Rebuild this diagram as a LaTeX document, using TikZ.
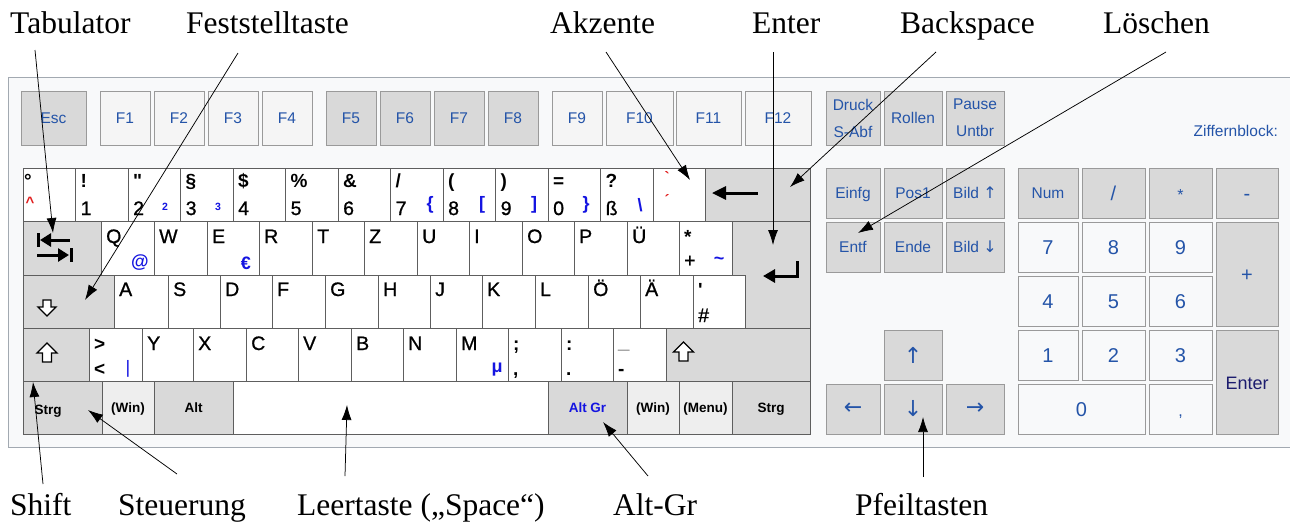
\documentclass[tikz,border=0pt]{standalone}
\usepackage{fontspec}
\setmainfont{Liberation Serif}
\newfontfamily\kf{Liberation Sans}
\newfontfamily\kfm{Liberation Sans}[FakeBold=0.9]
\newfontfamily\df{DejaVu Sans}
\usetikzlibrary{arrows.meta}
\definecolor{panelbg}{HTML}{F8F9FA}
\definecolor{panelbd}{HTML}{A2A9B1}
\definecolor{kgray}{HTML}{D9D9D9}
\definecolor{klight}{HTML}{F5F5F5}
\definecolor{kwin}{HTML}{EEEEEE}
\definecolor{kbd}{HTML}{5E5E5E}
\definecolor{fbd}{HTML}{9A9A9A}
\definecolor{lblue}{RGB}{36,84,168}
\definecolor{vblue}{RGB}{28,28,110}
\definecolor{agblue}{RGB}{20,20,225}
\definecolor{accred}{RGB}{225,30,30}
\newcommand\fsz[1]{\fontsize{#1}{#1}\selectfont}
\newcommand\KEY[6]{\node[#1,minimum width={#4-#2},minimum height={#5-#3},anchor=north west] (#6) at (#2,#3) {};}
\newcommand\NK[5]{\KEY{wk}{#1}{168}{#2}{221}{#3}
  \node[chb] (#3-a) at (#1+5,187) {#4};
  \node[ch] (#3-b) at (#1+5,215) {#5};}
\tikzset{
 mk/.style={draw=kbd,line width=0.9pt,inner sep=0pt,outer sep=0pt},
 wk/.style={mk,fill=white},
 gk/.style={mk,fill=kgray},
 ik/.style={mk,fill=kwin},
 fk/.style={draw=fbd,line width=0.9pt,inner sep=0pt,outer sep=0pt,fill=klight},
 fg/.style={draw=fbd,line width=0.9pt,inner sep=0pt,outer sep=0pt,fill=kgray},
 pk/.style={draw=fbd,line width=0.9pt,inner sep=0pt,outer sep=0pt,fill=panelbg},
 ch/.style={font=\kfm\fsz{19.5},inner sep=0pt,anchor=base west},
 chb/.style={font=\kf\bfseries\fsz{19},inner sep=0pt,anchor=base west},
 ag/.style={font=\kf\bfseries\fsz{18},text=agblue,inner sep=0pt,anchor=center},
 agr/.style={font=\kf\fsz{18},text=agblue,inner sep=0pt,anchor=center},
 agsm/.style={font=\kf\bfseries\fsz{10.5},text=agblue,inner sep=0pt,anchor=center},
 rd/.style={font=\kf\bfseries\fsz{15},text=accred,inner sep=0pt,anchor=center},
 ft/.style={font=\kf\fsz{15.5},text=lblue,inner sep=0pt,anchor=base,yshift=-5.7pt},
 ft2/.style={font=\kf\fontsize{15.5}{27}\selectfont,text=lblue,inner sep=0pt,align=center},
 npt/.style={font=\kf\fsz{20},text=lblue,inner sep=0pt,anchor=base,yshift=-7pt},
 art/.style={font=\df\fsz{22},text=lblue,inner sep=0pt,anchor=center},
 mt/.style={font=\kf\bfseries\fsz{13.5},inner sep=0pt,anchor=base},
 lab/.style={font=\fsz{31.5},inner sep=0pt,anchor=base west},
 con/.style={line width=0.75pt,-{Latex[length=15pt,width=10pt]}},
 icon/.style={line width=3pt},
 ol/.style={line width=1.3pt,line join=miter,fill=white},
}
\begin{document}
\begin{tikzpicture}[x=1pt,y=-1pt]
\useasboundingbox (0,0) rectangle (1290,523);
\fill[white] (0,0) rectangle (1290,523);
\draw[panelbd,fill=panelbg,line width=1pt] (8,77) rectangle (1310,447);

% ---------- function row
\KEY{fg}{21}{91}{86}{145}{esc} \node[ft] (esc-t) at (esc) {Esc};
\foreach \a/\b/\t [count=\i] in {100/150/F1,154/204/F2,208/258/F3,262/312/F4}
  {\KEY{fk}{\a}{91}{\b}{145}{fa\i} \node[ft] (fa\i-t) at (fa\i) {\t};}
\foreach \a/\b/\t [count=\i] in {326/376/F5,380/430/F6,434/484/F7,488/538/F8}
  {\KEY{fg}{\a}{91}{\b}{145}{fb\i} \node[ft] (fb\i-t) at (fb\i) {\t};}
\foreach \a/\b/\t [count=\i] in {552/602/F9,606/673/F10,676/741/F11,745/811/F12}
  {\KEY{fk}{\a}{91}{\b}{145}{fc\i} \node[ft] (fc\i-t) at (fc\i) {\t};}
\KEY{fg}{826}{91}{880}{145}{prt} \node[ft2] (prt-t) at (prt) {Druck\\S-Abf};
\KEY{fg}{884}{91}{942}{145}{scr} \node[ft] (scr-t) at (scr) {Rollen};
\KEY{fg}{946}{91}{1004}{145}{pau} \node[ft2] (pau-t) at (pau) {Pause\\Untbr};
\node[font=\kf\fsz{15.5},text=lblue,inner sep=0pt,anchor=base east] (zb) at (1278,136) {Ziffernblock:};

% ---------- number row
\KEY{wk}{23}{168}{75.5}{221}{kc}
\node[chb] (kc-a) at (24,187) {°};
\node[rd] (kc-b) at (30,202) {\^{}};
\NK{75.5}{128}{n1}{!}{1}
\NK{128}{180.5}{n2}{"}{2}
\NK{180.5}{233}{n3}{§}{3}
\NK{233}{285.5}{n4}{\$}{4}
\NK{285.5}{338}{n5}{\%}{5}
\NK{338}{390.5}{n6}{\&}{6}
\NK{390.5}{443}{n7}{/}{7}
\NK{443}{495.5}{n8}{(}{8}
\NK{495.5}{548}{n9}{)}{9}
\NK{548}{600.5}{n0}{=}{0}
\NK{600.5}{653}{nss}{?}{ß}
\node[agsm] (n2-c) at (165,207) {2};
\node[agsm] (n3-c) at (218,207) {3};
\node[ag] (n7-c) at (430,205) {\{};
\node[ag] (n8-c) at (482,205) {[};
\node[ag] (n9-c) at (534,205) {]};
\node[ag] (n0-c) at (586,205) {\}};
\node[ag] (nss-c) at (640,205) {\textbackslash};
\KEY{wk}{653}{168}{705.5}{221}{nacc}
\node[rd] (nacc-a) at (667,177) {`};
\node[rd] (nacc-b) at (667,200) {´};
\KEY{gk}{705.5}{168}{810}{221}{bs}

% ---------- Q row
\KEY{gk}{23}{221}{101}{275}{tab}
\foreach \a/\b/\c [count=\i] in {101/154/Q,154/207/W,207/259/E,259/312/R,312/364/T,364/417/Z,417/469/U,469/522/I,522/574/O,574/627/P,627/679/Ü}
  {\KEY{wk}{\a}{221}{\b}{275}{kq\i} \node[ch] (kq\i-t) at (\a+5,243) {\c};}
\node[ag] (kq1-c) at (140,263) {@};
\node[ag] (kq3-c) at (246,263) {€};
\KEY{wk}{679}{221}{732}{275}{kplus}
\node[chb] (kplus-a) at (684,243) {*};
\node[ch] (kplus-b) at (684,267) {+};
\node[ag] (kplus-c) at (719,261) {\textasciitilde};
\draw[mk,fill=kgray] (732,221) -- (810,221) -- (810,328) -- (745,328) -- (745,275) -- (732,275) -- cycle;

% ---------- A row
\KEY{gk}{23}{275}{114}{328}{caps}
\foreach \a/\b/\c [count=\i] in {114/168/A,168/220/S,220/272/D,272/325/F,325/378/G,378/430/H,430/482/J,482/535/K,535/588/L,588/640/Ö,640/693/Ä}
  {\KEY{wk}{\a}{275}{\b}{328}{ka\i} \node[ch] (ka\i-t) at (\a+5,296) {\c};}
\KEY{wk}{693}{275}{745}{328}{khash}
\node[chb] (khash-a) at (698,296) {'};
\node[ch] (khash-b) at (698,322) {\#};

% ---------- shift row
\KEY{gk}{23}{328}{89}{381}{lsh}
\KEY{wk}{89}{328}{142}{381}{klt}
\node[chb] (klt-a) at (94,350) {>};
\node[chb] (klt-b) at (94,375) {<};
\node[agr] (klt-c) at (128,369) {|};
\foreach \a/\b/\c [count=\i] in {142/193/Y,193/246/X,246/298/C,298/351/V,351/403/B,403/456/N,456/508/M}
  {\KEY{wk}{\a}{328}{\b}{381}{ky\i} \node[ch] (ky\i-t) at (\a+5,350) {\c};}
\node[ag] (ky7-c) at (497,370) {μ};
\KEY{wk}{508}{328}{561}{381}{ksem}
\node[chb] (ksem-a) at (513,350) {;};
\node[chb] (ksem-b) at (513,375) {,};
\KEY{wk}{561}{328}{613}{381}{kcol}
\node[chb] (kcol-a) at (566,350) {:};
\node[chb] (kcol-b) at (566,375) {.};
\KEY{wk}{613}{328}{666}{381}{kmin}
\node[ch,text=gray!70] (kmin-a) at (618,347) {\_};
\node[chb] (kmin-b) at (618,375) {-};
\KEY{gk}{666}{328}{810}{381}{rsh}

% ---------- bottom row
\KEY{gk}{23}{381}{102}{434}{lctl} \node[mt] (lctl-t) at (48,414) {Strg};
\KEY{ik}{102}{381}{154}{434}{lwin} \node[mt] (lwin-t) at (lwin.center) [yshift=-5pt] {(Win)};
\KEY{gk}{154}{381}{233}{434}{lalt} \node[mt] (lalt-t) at (lalt.center) [yshift=-5pt] {Alt};
\KEY{wk}{233}{381}{548}{434}{spc}
\KEY{gk}{548}{381}{627}{434}{agr} \node[mt,text=agblue] (agr-t) at (agr.center) [yshift=-5pt] {Alt Gr};
\KEY{ik}{627}{381}{679}{434}{rwin} \node[mt] (rwin-t) at (rwin.center) [yshift=-5pt] {(Win)};
\KEY{ik}{679}{381}{732}{434}{menu} \node[mt] (menu-t) at (menu.center) [yshift=-5pt] {(Menu)};
\KEY{gk}{732}{381}{810}{434}{rctl} \node[mt] (rctl-t) at (rctl.center) [yshift=-5pt] {Strg};

% ---------- icons
\draw[icon] (38,233) -- (38,247);
\draw[icon,{Triangle[length=11pt,width=13pt]}-] (40,240) -- (70,240);
\draw[icon,-{Triangle[length=11pt,width=13pt]}] (37,255) -- (69,255);
\draw[icon] (71,248) -- (71,262);
\draw[line width=3pt,{Triangle[length=14pt,width=13pt]}-] (712,193) -- (758,193);
\draw[line width=3pt,line join=miter,-{Triangle[length=12pt,width=13pt]}] (797,261) -- (797,276) -- (763,276);
\draw[ol] (43,300) -- (51,300) -- (51,307) -- (56,307) -- (47,316) -- (38,307) -- (43,307) -- cycle;
\draw[ol] (47,343) -- (57,353) -- (51.5,353) -- (51.5,362) -- (42.5,362) -- (42.5,353) -- (37,353) -- cycle;
\draw[ol] (683.5,342) -- (693.5,352) -- (688,352) -- (688,361) -- (679,361) -- (679,352) -- (673.5,352) -- cycle;

% ---------- navigation block
\KEY{fg}{826}{168}{880}{218}{ins} \node[ft] (ins-t) at (ins) {Einfg};
\KEY{fg}{884}{168}{942}{218}{home} \node[ft] (home-t) at (home) {Pos1};
\KEY{fg}{946}{168}{1004}{218}{pgup} \node[ft] (pgup-t) at (pgup) {Bild {\df\fsz{16}↑}};
\KEY{fg}{826}{222}{880}{272}{del} \node[ft] (del-t) at (del) {Entf};
\KEY{fg}{884}{222}{942}{272}{end} \node[ft] (end-t) at (end) {Ende};
\KEY{fg}{946}{222}{1004}{272}{pgdn} \node[ft] (pgdn-t) at (pgdn) {Bild {\df\fsz{16}↓}};
\KEY{fg}{884}{330}{942}{380}{up} \node[art] (up-t) at (up) {↑};
\KEY{fg}{826}{384}{880}{434}{left} \node[art] (left-t) at (left) {←};
\KEY{fg}{884}{384}{942}{434}{down} \node[art] (down-t) at (down) {↓};
\KEY{fg}{946}{384}{1004}{434}{right} \node[art] (right-t) at (right) {→};

% ---------- numeric keypad
\KEY{fg}{1018}{168}{1078}{218}{num} \node[ft] (num-t) at (num) {Num};
\KEY{fg}{1082}{168}{1145}{218}{ndiv} \node[npt] (ndiv-t) at (ndiv) {/};
\KEY{fg}{1149}{168}{1212}{218}{nmul} \node[npt,font=\kf\fsz{16}] (nmul-t) at (nmul) {*};
\KEY{fg}{1216}{168}{1278}{218}{nsub} \node[npt] (nsub-t) at (nsub) {-};
\foreach \a/\b/\y/\z/\c in {1018/1078/222/272/7,1082/1145/222/272/8,1149/1212/222/272/9,
  1018/1078/276/326/4,1082/1145/276/326/5,1149/1212/276/326/6,
  1018/1078/330/380/1,1082/1145/330/380/2,1149/1212/330/380/3}
  {\KEY{pk}{\a}{\y}{\b}{\z}{np\c} \node[npt] (np\c-t) at (np\c) {\c};}
\KEY{fg}{1216}{222}{1278}{326}{nadd} \node[npt] (nadd-t) at (nadd) {+};
\KEY{fg}{1216}{330}{1278}{434}{nent} \node[npt,font=\kf\fsz{18},text=vblue] (nent-t) at (nent) {Enter};
\KEY{pk}{1018}{384}{1145}{434}{np0} \node[npt] (np0-t) at (np0) {0};
\KEY{pk}{1149}{384}{1212}{434}{ncom} \node[npt,font=\kf\fsz{16}] (ncom-t) at (ncom) {,};

% ---------- labels
\node[lab] (lTab) at (10,33) {Tabulator};
\node[lab] (lCaps) at (186,33) {Feststelltaste};
\node[lab] (lAkz) at (550,33) {Akzente};
\node[lab] (lEnt) at (752,33) {Enter};
\node[lab] (lBs) at (900,33) {Backspace};
\node[lab] (lDel) at (1103,33) {Löschen};
\node[lab] (lShift) at (10,515) {Shift};
\node[lab] (lCtrl) at (118,515) {Steuerung};
\node[lab] (lSpace) at (297,515) {Leertaste („Space“)};
\node[lab] (lAltGr) at (613,515) {Alt-Gr};
\node[lab] (lArr) at (855,515) {Pfeiltasten};

% ---------- connectors
\coordinate (sTab) at (35,50);    \coordinate (tTab) at (53,233);
\coordinate (sCaps) at (238,53);  \coordinate (tCaps) at (85,300);
\coordinate (sAkz) at (606,52);   \coordinate (tAkz) at (690,180);
\coordinate (sEnt) at (773,52);   \coordinate (tEnt) at (773,245);
\coordinate (sBs) at (936,52);    \coordinate (tBs) at (790,187);
\coordinate (sDel) at (1166,52);  \coordinate (tDel) at (858,233);
\coordinate (sShift) at (43,484); \coordinate (tShift) at (33,382);
\coordinate (sCtrl) at (177,474); \coordinate (tCtrl) at (88,410);
\coordinate (sSpace) at (345,476);\coordinate (tSpace) at (347,405);
\coordinate (sAltGr) at (648,476);\coordinate (tAltGr) at (603,422);
\coordinate (sArr) at (923,477);  \coordinate (tArr) at (923,417);
\foreach \n in {Tab,Caps,Akz,Ent,Bs,Del,Shift,Ctrl,Space,AltGr,Arr}
  {\draw[con] (s\n) -- (t\n);}
\end{tikzpicture}
\end{document}
